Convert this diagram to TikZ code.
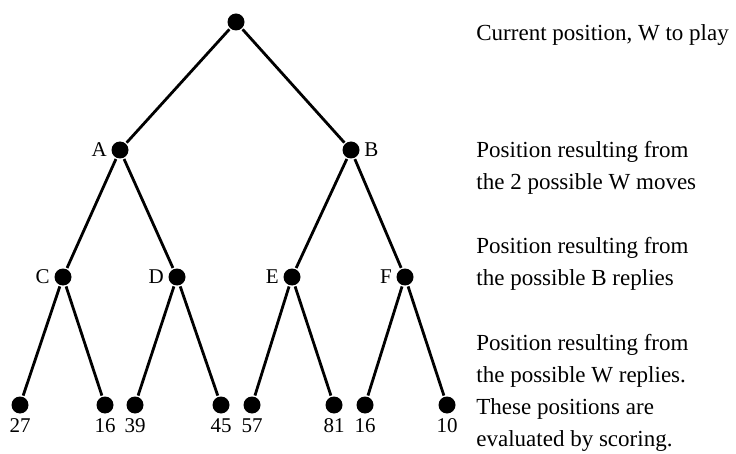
\documentclass[tikz,border=0pt]{standalone}
\usepackage{fontspec}
\setmainfont{Liberation Serif}
\usetikzlibrary{positioning}

\tikzset{
  posdot/.style={circle, fill=black, inner sep=0pt, minimum size=17pt},
  tag/.style={font=\fontsize{21}{21}\selectfont, inner sep=1pt},
  note/.style={anchor=west, align=left, inner sep=0pt, font=\fontsize{23}{32}\selectfont}
}

\begin{document}
\begin{tikzpicture}[x=1pt, y=1pt, line width=2.8pt, label distance=1pt]
\useasboundingbox (0,0) rectangle (736,453);
						\node[posdot] (root) at (236,431) {};
						\node[posdot, label={[tag]left:A}] (A) at (120,303) {};
						\node[posdot, label={[tag]right:B}] (B) at (351,303) {};
						\node[posdot, label={[tag]left:C}] (C) at (63,176) {};
						\node[posdot, label={[tag]left:D}] (D) at (177,176) {};
						\node[posdot, label={[tag]left:E}] (E) at (292,176) {};
						\node[posdot, label={[tag]left:F}] (F) at (405,176) {};
						\node[posdot, label={[tag]below:27}] (l1) at (20,48) {};
						\node[posdot, label={[tag]below:16}] (l2) at (105,48) {};
						\node[posdot, label={[tag]below:39}] (l3) at (135,48) {};
						\node[posdot, label={[tag]below:45}] (l4) at (221,48) {};
						\node[posdot, label={[tag]below:57}] (l5) at (252,48) {};
						\node[posdot, label={[tag]below:81}] (l6) at (334,48) {};
						\node[posdot, label={[tag]below:16}] (l7) at (365,48) {};
						\node[posdot, label={[tag]below:10}] (l8) at (447,48) {};
						\draw (root) -- (A);
						\draw (root) -- (B);
						\draw (A) -- (C);
						\draw (A) -- (D);
						\draw (B) -- (E);
						\draw (B) -- (F);
						\draw (C) -- (l1);
						\draw (C) -- (l2);
						\draw (D) -- (l3);
						\draw (D) -- (l4);
						\draw (E) -- (l5);
						\draw (E) -- (l6);
						\draw (F) -- (l7);
						\draw (F) -- (l8);
						\node[note] (n0) at (475,418) {Current position, W to play};
						\node[note] (n1) at (475,285) {Position resulting from\\the 2 possible W moves};
						\node[note] (n2) at (475,189) {Position resulting from\\the possible B replies};
						\node[note] (n3) at (475,60) {Position resulting from\\the possible W replies.\\These positions are\\evaluated by scoring.};
					\end{tikzpicture}
\end{document}
